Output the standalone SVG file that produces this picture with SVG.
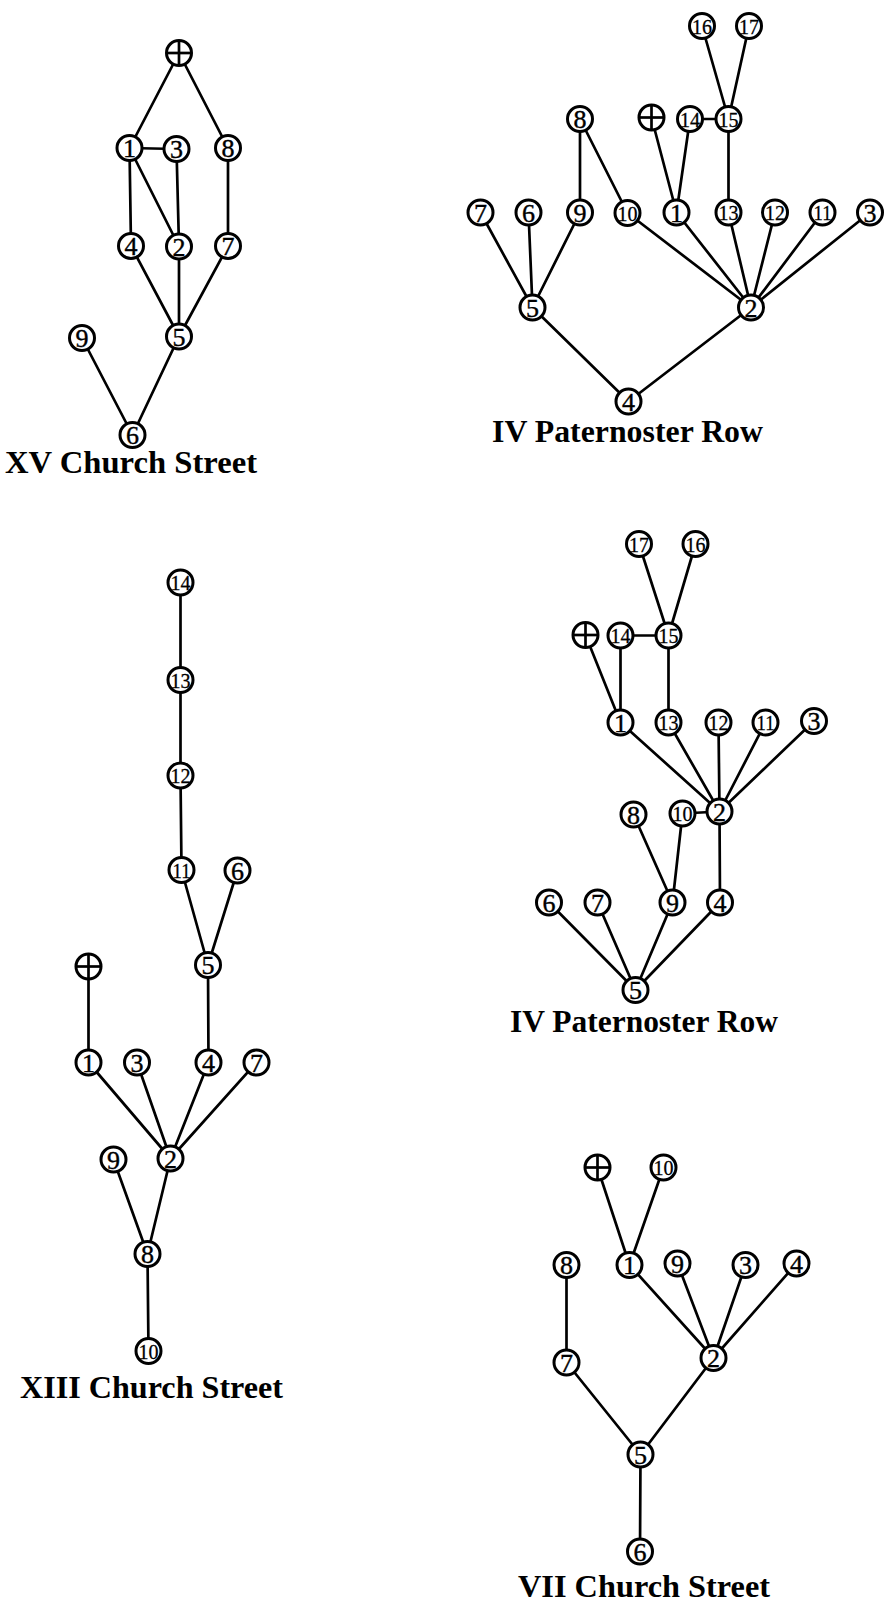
<svg xmlns="http://www.w3.org/2000/svg" width="886" height="1605" viewBox="0 0 886 1605">
<style>
.n circle{fill:#fff;stroke:#000;stroke-width:3}
.n text{font-family:"Liberation Serif","Times New Roman",serif;font-size:26px;text-anchor:middle;fill:#000;stroke:#000;stroke-width:0.4}
.n text.d{font-size:22px;stroke-width:0.3}
.e line{stroke:#000;stroke-width:2.7;stroke-linecap:round}
.t{font-family:"Liberation Serif","Times New Roman",serif;font-weight:bold;font-size:32px;fill:#000}
</style>
<defs>
<g id="plus"><circle r="12.5" fill="#fff" stroke="#000" stroke-width="3"/><line x1="-12.5" y1="0" x2="12.5" y2="0" stroke="#000" stroke-width="2.7"/><line x1="0" y1="-12.5" x2="0" y2="12.5" stroke="#000" stroke-width="2.7"/></g>
</defs>

<!-- Panel 1: XV Church Street -->
<g class="e" id="edges-p1">
<line x1="179" y1="53" x2="129.5" y2="148"/>
<line x1="179" y1="53" x2="228" y2="148"/>
<line x1="129.5" y1="148" x2="176.5" y2="149"/>
<line x1="129.5" y1="148" x2="131" y2="246"/>
<line x1="129.5" y1="148" x2="179" y2="246.5"/>
<line x1="176.5" y1="149" x2="179" y2="246.5"/>
<line x1="228" y1="148" x2="228" y2="246"/>
<line x1="131" y1="246" x2="179" y2="336.5"/>
<line x1="179" y1="246.5" x2="179" y2="336.5"/>
<line x1="228" y1="246" x2="179" y2="336.5"/>
<line x1="82" y1="338" x2="132.5" y2="435"/>
<line x1="179" y1="336.5" x2="132.5" y2="435"/>
</g>
<g class="n" id="p1-plus"><use href="#plus" x="179" y="53"/></g>
<g class="n" id="p1-n1"><circle cx="129.5" cy="148" r="12.5"/><text x="129.5" y="157">1</text></g>
<g class="n" id="p1-n3"><circle cx="176.5" cy="149" r="12.5"/><text x="176.5" y="158">3</text></g>
<g class="n" id="p1-n8"><circle cx="228" cy="148" r="12.5"/><text x="228" y="157">8</text></g>
<g class="n" id="p1-n4"><circle cx="131" cy="246" r="12.5"/><text x="131" y="255">4</text></g>
<g class="n" id="p1-n2"><circle cx="179" cy="246.5" r="12.5"/><text x="179" y="255.5">2</text></g>
<g class="n" id="p1-n7"><circle cx="228" cy="246" r="12.5"/><text x="228" y="255">7</text></g>
<g class="n" id="p1-n5"><circle cx="179" cy="336.5" r="12.5"/><text x="179" y="345.5">5</text></g>
<g class="n" id="p1-n9"><circle cx="82" cy="338" r="12.5"/><text x="82" y="347">9</text></g>
<g class="n" id="p1-n6"><circle cx="132.5" cy="435" r="12.5"/><text x="132.5" y="444">6</text></g>
<text class="t" x="5" y="473" textLength="252" lengthAdjust="spacingAndGlyphs">XV Church Street</text>

<!-- Panel 2: IV Paternoster Row (top) -->
<g class="e" id="edges-p2">
<line x1="702" y1="26" x2="728.5" y2="119"/>
<line x1="749" y1="26" x2="728.5" y2="119"/>
<line x1="690" y1="119" x2="728.5" y2="119"/>
<line x1="651.5" y1="117.5" x2="676.5" y2="212.5"/>
<line x1="690" y1="119" x2="676.5" y2="212.5"/>
<line x1="728.5" y1="119" x2="728.5" y2="212.5"/>
<line x1="580" y1="119" x2="580" y2="212.5"/>
<line x1="580" y1="119" x2="627.5" y2="213"/>
<line x1="480.5" y1="212.5" x2="532.5" y2="307.5"/>
<line x1="528.5" y1="212.5" x2="532.5" y2="307.5"/>
<line x1="580" y1="212.5" x2="532.5" y2="307.5"/>
<line x1="627.5" y1="213" x2="751" y2="307.5"/>
<line x1="676.5" y1="212.5" x2="751" y2="307.5"/>
<line x1="728.5" y1="212.5" x2="751" y2="307.5"/>
<line x1="775" y1="212.5" x2="751" y2="307.5"/>
<line x1="822.5" y1="212.5" x2="751" y2="307.5"/>
<line x1="870" y1="212.5" x2="751" y2="307.5"/>
<line x1="532.5" y1="307.5" x2="628.5" y2="401.5"/>
<line x1="751" y1="307.5" x2="628.5" y2="401.5"/>
</g>
<g class="n" id="p2-n16"><circle cx="702" cy="26" r="12.5"/><text class="d" x="702" y="33.5" textLength="20" lengthAdjust="spacingAndGlyphs">16</text></g>
<g class="n" id="p2-n17"><circle cx="749" cy="26" r="12.5"/><text class="d" x="749" y="33.5" textLength="20" lengthAdjust="spacingAndGlyphs">17</text></g>
<g class="n" id="p2-plus"><use href="#plus" x="651.5" y="117.5"/></g>
<g class="n" id="p2-n14"><circle cx="690" cy="119" r="12.5"/><text class="d" x="690" y="126.5" textLength="20" lengthAdjust="spacingAndGlyphs">14</text></g>
<g class="n" id="p2-n15"><circle cx="728.5" cy="119" r="12.5"/><text class="d" x="728.5" y="126.5" textLength="20" lengthAdjust="spacingAndGlyphs">15</text></g>
<g class="n" id="p2-n8"><circle cx="580" cy="119" r="12.5"/><text x="580" y="128">8</text></g>
<g class="n" id="p2-n7"><circle cx="480.5" cy="212.5" r="12.5"/><text x="480.5" y="221.5">7</text></g>
<g class="n" id="p2-n6"><circle cx="528.5" cy="212.5" r="12.5"/><text x="528.5" y="221.5">6</text></g>
<g class="n" id="p2-n9"><circle cx="580" cy="212.5" r="12.5"/><text x="580" y="221.5">9</text></g>
<g class="n" id="p2-n10"><circle cx="627.5" cy="213" r="12.5"/><text class="d" x="627.5" y="220.5" textLength="20" lengthAdjust="spacingAndGlyphs">10</text></g>
<g class="n" id="p2-n1"><circle cx="676.5" cy="212.5" r="12.5"/><text x="676.5" y="221.5">1</text></g>
<g class="n" id="p2-n13"><circle cx="728.5" cy="212.5" r="12.5"/><text class="d" x="728.5" y="220" textLength="20" lengthAdjust="spacingAndGlyphs">13</text></g>
<g class="n" id="p2-n12"><circle cx="775" cy="212.5" r="12.5"/><text class="d" x="775" y="220" textLength="20" lengthAdjust="spacingAndGlyphs">12</text></g>
<g class="n" id="p2-n11"><circle cx="822.5" cy="212.5" r="12.5"/><text class="d" x="822.5" y="220" textLength="18" lengthAdjust="spacingAndGlyphs">11</text></g>
<g class="n" id="p2-n3"><circle cx="870" cy="212.5" r="12.5"/><text x="870" y="221.5">3</text></g>
<g class="n" id="p2-n5"><circle cx="532.5" cy="307.5" r="12.5"/><text x="532.5" y="316.5">5</text></g>
<g class="n" id="p2-n2"><circle cx="751" cy="307.5" r="12.5"/><text x="751" y="316.5">2</text></g>
<g class="n" id="p2-n4"><circle cx="628.5" cy="401.5" r="12.5"/><text x="628.5" y="410.5">4</text></g>
<text class="t" x="492" y="442" textLength="271" lengthAdjust="spacingAndGlyphs">IV Paternoster Row</text>

<!-- Panel 3: XIII Church Street -->
<g class="e" id="edges-p3">
<line x1="180.5" y1="582.5" x2="180.5" y2="680"/>
<line x1="180.5" y1="680" x2="180.5" y2="775.5"/>
<line x1="180.5" y1="775.5" x2="181.5" y2="870"/>
<line x1="181.5" y1="870" x2="208" y2="965"/>
<line x1="237.5" y1="870.5" x2="208" y2="965"/>
<line x1="88.5" y1="966.5" x2="88.5" y2="1062.5"/>
<line x1="208" y1="965" x2="208.5" y2="1062.5"/>
<line x1="88.5" y1="1062.5" x2="170.5" y2="1158.5"/>
<line x1="137" y1="1062.5" x2="170.5" y2="1158.5"/>
<line x1="208.5" y1="1062.5" x2="170.5" y2="1158.5"/>
<line x1="256.5" y1="1062.5" x2="170.5" y2="1158.5"/>
<line x1="113.5" y1="1159.5" x2="147.5" y2="1254"/>
<line x1="170.5" y1="1158.5" x2="147.5" y2="1254"/>
<line x1="147.5" y1="1254" x2="148.5" y2="1351"/>
</g>
<g class="n" id="p3-n14"><circle cx="180.5" cy="582.5" r="12.5"/><text class="d" x="180.5" y="590" textLength="20" lengthAdjust="spacingAndGlyphs">14</text></g>
<g class="n" id="p3-n13"><circle cx="180.5" cy="680" r="12.5"/><text class="d" x="180.5" y="687.5" textLength="20" lengthAdjust="spacingAndGlyphs">13</text></g>
<g class="n" id="p3-n12"><circle cx="180.5" cy="775.5" r="12.5"/><text class="d" x="180.5" y="783" textLength="20" lengthAdjust="spacingAndGlyphs">12</text></g>
<g class="n" id="p3-n11"><circle cx="181.5" cy="870" r="12.5"/><text class="d" x="181.5" y="877.5" textLength="18" lengthAdjust="spacingAndGlyphs">11</text></g>
<g class="n" id="p3-n6"><circle cx="237.5" cy="870.5" r="12.5"/><text x="237.5" y="879.5">6</text></g>
<g class="n" id="p3-n5"><circle cx="208" cy="965" r="12.5"/><text x="208" y="974">5</text></g>
<g class="n" id="p3-plus"><use href="#plus" x="88.5" y="966.5"/></g>
<g class="n" id="p3-n1"><circle cx="88.5" cy="1062.5" r="12.5"/><text x="88.5" y="1071.5">1</text></g>
<g class="n" id="p3-n3"><circle cx="137" cy="1062.5" r="12.5"/><text x="137" y="1071.5">3</text></g>
<g class="n" id="p3-n4"><circle cx="208.5" cy="1062.5" r="12.5"/><text x="208.5" y="1071.5">4</text></g>
<g class="n" id="p3-n7"><circle cx="256.5" cy="1062.5" r="12.5"/><text x="256.5" y="1071.5">7</text></g>
<g class="n" id="p3-n9"><circle cx="113.5" cy="1159.5" r="12.5"/><text x="113.5" y="1168.5">9</text></g>
<g class="n" id="p3-n2"><circle cx="170.5" cy="1158.5" r="12.5"/><text x="170.5" y="1167.5">2</text></g>
<g class="n" id="p3-n8"><circle cx="147.5" cy="1254" r="12.5"/><text x="147.5" y="1263">8</text></g>
<g class="n" id="p3-n10"><circle cx="148.5" cy="1351" r="12.5"/><text class="d" x="148.5" y="1358.5" textLength="20" lengthAdjust="spacingAndGlyphs">10</text></g>
<text class="t" x="20" y="1398" textLength="263" lengthAdjust="spacingAndGlyphs">XIII Church Street</text>

<!-- Panel 4: IV Paternoster Row (middle) -->
<g class="e" id="edges-p4">
<line x1="639" y1="544" x2="668.5" y2="635.5"/>
<line x1="695.5" y1="544" x2="668.5" y2="635.5"/>
<line x1="620.5" y1="635.5" x2="668.5" y2="635.5"/>
<line x1="585.5" y1="635" x2="620.5" y2="722.5"/>
<line x1="620.5" y1="635.5" x2="620.5" y2="722.5"/>
<line x1="668.5" y1="635.5" x2="668.5" y2="722.5"/>
<line x1="620.5" y1="722.5" x2="719.5" y2="811.5"/>
<line x1="668.5" y1="722.5" x2="719.5" y2="811.5"/>
<line x1="718.5" y1="722.5" x2="719.5" y2="811.5"/>
<line x1="765.5" y1="722.5" x2="719.5" y2="811.5"/>
<line x1="814" y1="721" x2="719.5" y2="811.5"/>
<line x1="682.5" y1="813.5" x2="719.5" y2="811.5"/>
<line x1="633.5" y1="814.5" x2="672.5" y2="902.5"/>
<line x1="682.5" y1="813.5" x2="672.5" y2="902.5"/>
<line x1="719.5" y1="811.5" x2="720" y2="902.5"/>
<line x1="549" y1="902.5" x2="635.5" y2="990"/>
<line x1="597.5" y1="902.5" x2="635.5" y2="990"/>
<line x1="672.5" y1="902.5" x2="635.5" y2="990"/>
<line x1="720" y1="902.5" x2="635.5" y2="990"/>
</g>
<g class="n" id="p4-n17"><circle cx="639" cy="544" r="12.5"/><text class="d" x="639" y="551.5" textLength="20" lengthAdjust="spacingAndGlyphs">17</text></g>
<g class="n" id="p4-n16"><circle cx="695.5" cy="544" r="12.5"/><text class="d" x="695.5" y="551.5" textLength="20" lengthAdjust="spacingAndGlyphs">16</text></g>
<g class="n" id="p4-plus"><use href="#plus" x="585.5" y="635"/></g>
<g class="n" id="p4-n14"><circle cx="620.5" cy="635.5" r="12.5"/><text class="d" x="620.5" y="643" textLength="20" lengthAdjust="spacingAndGlyphs">14</text></g>
<g class="n" id="p4-n15"><circle cx="668.5" cy="635.5" r="12.5"/><text class="d" x="668.5" y="643" textLength="20" lengthAdjust="spacingAndGlyphs">15</text></g>
<g class="n" id="p4-n1"><circle cx="620.5" cy="722.5" r="12.5"/><text x="620.5" y="731.5">1</text></g>
<g class="n" id="p4-n13"><circle cx="668.5" cy="722.5" r="12.5"/><text class="d" x="668.5" y="730" textLength="20" lengthAdjust="spacingAndGlyphs">13</text></g>
<g class="n" id="p4-n12"><circle cx="718.5" cy="722.5" r="12.5"/><text class="d" x="718.5" y="730" textLength="20" lengthAdjust="spacingAndGlyphs">12</text></g>
<g class="n" id="p4-n11"><circle cx="765.5" cy="722.5" r="12.5"/><text class="d" x="765.5" y="730" textLength="18" lengthAdjust="spacingAndGlyphs">11</text></g>
<g class="n" id="p4-n3"><circle cx="814" cy="721" r="12.5"/><text x="814" y="730">3</text></g>
<g class="n" id="p4-n8"><circle cx="633.5" cy="814.5" r="12.5"/><text x="633.5" y="823.5">8</text></g>
<g class="n" id="p4-n10"><circle cx="682.5" cy="813.5" r="12.5"/><text class="d" x="682.5" y="821" textLength="20" lengthAdjust="spacingAndGlyphs">10</text></g>
<g class="n" id="p4-n2"><circle cx="719.5" cy="811.5" r="12.5"/><text x="719.5" y="820.5">2</text></g>
<g class="n" id="p4-n6"><circle cx="549" cy="902.5" r="12.5"/><text x="549" y="911.5">6</text></g>
<g class="n" id="p4-n7"><circle cx="597.5" cy="902.5" r="12.5"/><text x="597.5" y="911.5">7</text></g>
<g class="n" id="p4-n9"><circle cx="672.5" cy="902.5" r="12.5"/><text x="672.5" y="911.5">9</text></g>
<g class="n" id="p4-n4"><circle cx="720" cy="902.5" r="12.5"/><text x="720" y="911.5">4</text></g>
<g class="n" id="p4-n5"><circle cx="635.5" cy="990" r="12.5"/><text x="635.5" y="999">5</text></g>
<text class="t" x="510" y="1032" textLength="268" lengthAdjust="spacingAndGlyphs">IV Paternoster Row</text>

<!-- Panel 5: VII Church Street -->
<g class="e" id="edges-p5">
<line x1="597.5" y1="1167.5" x2="629.5" y2="1265"/>
<line x1="663.5" y1="1167.5" x2="629.5" y2="1265"/>
<line x1="566.5" y1="1265" x2="566.5" y2="1362.5"/>
<line x1="629.5" y1="1265" x2="713.5" y2="1358"/>
<line x1="677.5" y1="1263.5" x2="713.5" y2="1358"/>
<line x1="745.5" y1="1265" x2="713.5" y2="1358"/>
<line x1="796.5" y1="1263.5" x2="713.5" y2="1358"/>
<line x1="566.5" y1="1362.5" x2="640.5" y2="1454.5"/>
<line x1="713.5" y1="1358" x2="640.5" y2="1454.5"/>
<line x1="640.5" y1="1454.5" x2="640" y2="1551.5"/>
</g>
<g class="n" id="p5-plus"><use href="#plus" x="597.5" y="1167.5"/></g>
<g class="n" id="p5-n10"><circle cx="663.5" cy="1167.5" r="12.5"/><text class="d" x="663.5" y="1175" textLength="20" lengthAdjust="spacingAndGlyphs">10</text></g>
<g class="n" id="p5-n8"><circle cx="566.5" cy="1265" r="12.5"/><text x="566.5" y="1274">8</text></g>
<g class="n" id="p5-n1"><circle cx="629.5" cy="1265" r="12.5"/><text x="629.5" y="1274">1</text></g>
<g class="n" id="p5-n9"><circle cx="677.5" cy="1263.5" r="12.5"/><text x="677.5" y="1272.5">9</text></g>
<g class="n" id="p5-n3"><circle cx="745.5" cy="1265" r="12.5"/><text x="745.5" y="1274">3</text></g>
<g class="n" id="p5-n4"><circle cx="796.5" cy="1263.5" r="12.5"/><text x="796.5" y="1272.5">4</text></g>
<g class="n" id="p5-n7"><circle cx="566.5" cy="1362.5" r="12.5"/><text x="566.5" y="1371.5">7</text></g>
<g class="n" id="p5-n2"><circle cx="713.5" cy="1358" r="12.5"/><text x="713.5" y="1367">2</text></g>
<g class="n" id="p5-n5"><circle cx="640.5" cy="1454.5" r="12.5"/><text x="640.5" y="1463.5">5</text></g>
<g class="n" id="p5-n6"><circle cx="640" cy="1551.5" r="12.5"/><text x="640" y="1560.5">6</text></g>
<text class="t" x="518" y="1597" textLength="252" lengthAdjust="spacingAndGlyphs">VII Church Street</text>
</svg>
